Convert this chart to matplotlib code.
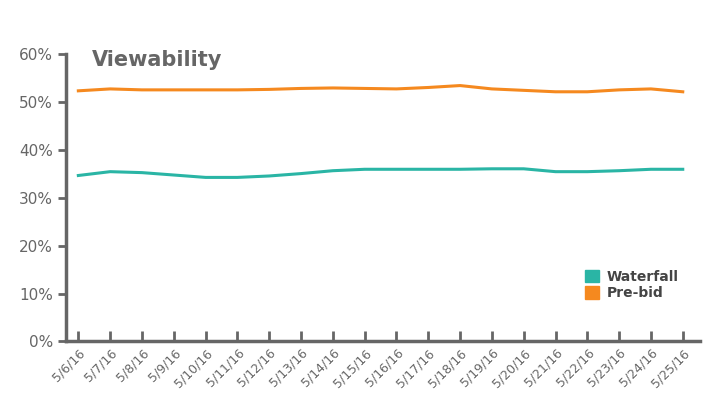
import matplotlib.pyplot as plt
from matplotlib.patches import Patch

dates = ["5/6/16", "5/7/16", "5/8/16", "5/9/16", "5/10/16", "5/11/16", "5/12/16",
         "5/13/16", "5/14/16", "5/15/16", "5/16/16", "5/17/16", "5/18/16", "5/19/16",
         "5/20/16", "5/21/16", "5/22/16", "5/23/16", "5/24/16", "5/25/16"]
waterfall = [34.7, 35.5, 35.3, 34.8, 34.3, 34.3, 34.6, 35.1, 35.7, 36.0, 36.0, 36.0,
             36.0, 36.1, 36.1, 35.5, 35.5, 35.7, 36.0, 36.0]
prebid = [52.4, 52.8, 52.6, 52.6, 52.6, 52.6, 52.7, 52.9, 53.0, 52.9, 52.8, 53.1,
          53.5, 52.8, 52.5, 52.2, 52.2, 52.6, 52.8, 52.2]
yticks = [0, 10, 20, 30, 40, 50, 60]

teal = "#2ab5a5"
orange = "#f5891f"
grey = "#666666"

fig = plt.figure(figsize=(7.28, 4.19), dpi=100)
ax = fig.add_axes([0.091, 0.185, 0.87, 0.685])
x = range(len(dates))
ax.plot(x, waterfall, color=teal, lw=2.2)
ax.plot(x, prebid, color=orange, lw=2.2)

ax.set_ylim(0, 60)
ax.set_xlim(-0.38, len(dates) - 0.47)
ax.set_yticks(yticks)
ax.set_yticklabels([f"{v}%" for v in yticks], fontsize=11, color=grey)
ax.set_xticks(list(x))
ax.set_xticklabels(dates, rotation=45, ha="right", rotation_mode="anchor",
                   fontsize=9, color=grey)
ax.tick_params(axis="both", color=grey, width=2, length=6)
ax.tick_params(axis="x", direction="in", length=7)
for s in ["top", "right"]:
    ax.spines[s].set_visible(False)
for s in ["left", "bottom"]:
    ax.spines[s].set_color(grey)
    ax.spines[s].set_linewidth(2.5)

ax.text(0.04, 0.98, "Viewability", transform=ax.transAxes, fontsize=15,
        fontweight="bold", color=grey, va="center")

handles = [Patch(color=teal, label="Waterfall"), Patch(color=orange, label="Pre-bid")]
leg = ax.legend(handles=handles, loc="lower left", bbox_to_anchor=(0.8, 0.1),
                frameon=False, fontsize=10, handlelength=1.0, handleheight=1.0,
                handletextpad=0.5, labelspacing=0.2)
for t in leg.get_texts():
    t.set_color("#444444")
    t.set_fontweight("bold")

fig.savefig("out.png", dpi=100)
